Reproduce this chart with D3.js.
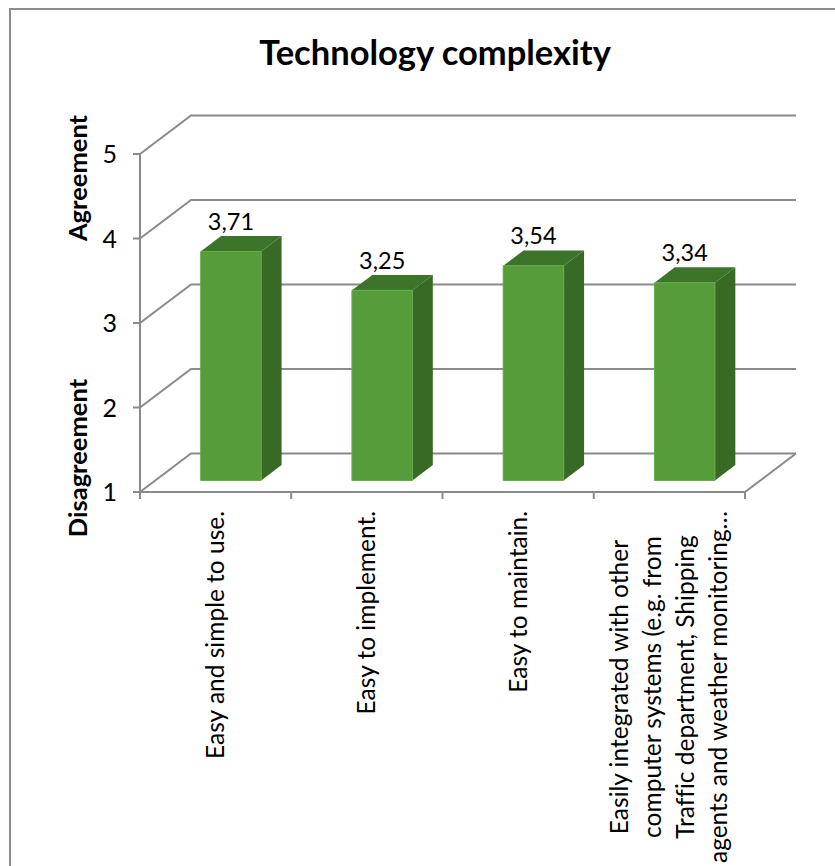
<!DOCTYPE html>
<html>
<head>
<meta charset="utf-8">
<script src="https://cdn.jsdelivr.net/npm/d3@7"></script>
<style>
  html, body { margin: 0; padding: 0; background: #ffffff; }
  svg { display: block; font-family: Lato, "Open Sans", sans-serif; font-variant-ligatures: none; }
</style>
</head>
<body>
<svg id="chart" width="835" height="866"></svg>
<script>
// Survey results: mean agreement on a 1–5 scale
const categories = [
  ["Easy and simple to use."],
  ["Easy to implement."],
  ["Easy to maintain."],
  ["Easily integrated with other", "computer systems (e.g. from", "Traffic department, Shipping", "agents and weather monitoring…"]
];
const values = [3.71, 3.25, 3.54, 3.34];
const valueLabels = ["3,71", "3,25", "3,54", "3,34"];
const yTicks = [1, 2, 3, 4, 5];
const chartTitle = "Technology complexity";
const axisTitleHigh = "Agreement";
const axisTitleLow = "Disagreement";

const svg = d3.select("#chart");

// Layout of the pseudo-3D plot box
const left = 140, right = 745, floorY = 492, topY = 154;
const depthX = 51, depthY = -38.5;           // offset from front plane to back wall
const barFront = 0.30, barBack = 0.70;       // bar depth as fraction of box depth
const gridColor = "#8a8a8a";

const x = d3.scaleBand()
  .domain(d3.range(categories.length))
  .range([left, right])
  .paddingInner(0.6)
  .paddingOuter(0.3);

const y = d3.scaleLinear().domain([1, 5]).range([floorY, topY]);

// project a front-plane point back by a depth fraction
const P = (px, py, d) => [px + depthX * d, py + depthY * d];

// Outer chart border
svg.append("rect")
  .attr("x", 10).attr("y", 9)
  .attr("width", 900).attr("height", 900)
  .attr("fill", "none")
  .attr("stroke", "#8c8c8c")
  .attr("stroke-width", 2);

// Title
svg.append("text")
  .attr("x", 435).attr("y", 65)
  .attr("text-anchor", "middle")
  .attr("font-weight", "bold")
  .attr("font-size", 34.5)
  .attr("fill", "#000")
  .text(chartTitle);

// Wall and floor gridlines
const grid = svg.append("g")
  .attr("fill", "none")
  .attr("stroke", gridColor)
  .attr("stroke-width", 2);

yTicks.forEach(t => {
  const f = [left, y(t)];
  const b = P(left, y(t), 1);
  const br = P(right, y(t), 1);
  grid.append("path").attr("d", d3.line()([f, b, br]));
});
// floor right edge
grid.append("path").attr("d", d3.line()([[right, floorY], P(right, floorY, 1)]));

// Front axes
const axes = svg.append("g").attr("stroke", gridColor).attr("stroke-width", 2).attr("fill", "none");
axes.append("line").attr("x1", left).attr("x2", left).attr("y1", y(5)).attr("y2", floorY);
axes.append("line").attr("x1", left).attr("x2", right).attr("y1", floorY).attr("y2", floorY);

// y ticks and labels
yTicks.forEach(t => {
  axes.append("line").attr("x1", left - 7).attr("x2", left).attr("y1", y(t)).attr("y2", y(t));
});
svg.append("g").selectAll("text")
  .data(yTicks).join("text")
  .attr("x", 117)
  .attr("y", d => y(d))
  .attr("dy", "0.36em")
  .attr("text-anchor", "end")
  .attr("font-size", 25)
  .attr("fill", "#000")
  .text(d => d);

// category boundary ticks
const step = x.step();
const bounds = d3.range(categories.length + 1).map(i => left + i * step);
bounds.forEach(bx => {
  axes.append("line").attr("x1", bx).attr("x2", bx).attr("y1", floorY).attr("y2", floorY + 7);
});

// Bars
const bars = svg.append("g");
values.forEach((v, i) => {
  const x0 = x(i), x1 = x(i) + x.bandwidth();
  const yb = y(1), yt = y(v);
  const fl = P(x0, yb, barFront), fr = P(x1, yb, barFront);
  const tl = P(x0, yt, barFront), tr = P(x1, yt, barFront);
  const btr = P(x1, yt, barBack), btl = P(x0, yt, barBack), bbr = P(x1, yb, barBack);
  const g = bars.append("g");
  // side face
  g.append("path").attr("d", d3.line()([fr, tr, btr, bbr]) + "Z").attr("fill", "#386a25");
  // top face
  g.append("path").attr("d", d3.line()([tl, tr, btr, btl]) + "Z").attr("fill", "#3c7529");
  // front face
  g.append("path").attr("d", d3.line()([fl, fr, tr, tl]) + "Z")
    .attr("fill", "#569c3b").attr("stroke", "#64ad48").attr("stroke-width", 1);
  // value label
  const cx = (fl[0] + fr[0]) / 2;
  svg.append("text")
    .attr("x", cx).attr("y", btl[1] - 6)
    .attr("text-anchor", "middle")
    .attr("font-size", 23.5)
    .attr("fill", "#000")
    .text(valueLabels[i]);
});

// Category labels, rotated, top-aligned just below the axis
const labelTop = 511, lineGap = 33;
categories.forEach((lines, i) => {
  const cx = x(i) + x.bandwidth() / 2;
  const g = svg.append("g").attr("transform", `translate(${cx},${labelTop}) rotate(-90)`);
  const texts = lines.map((s, j) => g.append("text")
    .attr("y", (j - (lines.length - 1) / 2) * lineGap)
    .attr("dy", "0.35em")
    .attr("font-size", 24.5)
    .attr("fill", "#000")
    .attr("text-anchor", "middle")
    .text(s));
  const maxLen = d3.max(texts, t => t.node().getComputedTextLength());
  texts.forEach(t => t.attr("x", -maxLen / 2));
});

// Axis titles, rotated
[[axisTitleHigh, 178], [axisTitleLow, 458]].forEach(([s, cy]) => {
  svg.append("text")
    .attr("transform", `translate(78,${cy}) rotate(-90)`)
    .attr("dy", "0.35em")
    .attr("text-anchor", "middle")
    .attr("font-weight", "bold")
    .attr("font-size", 25.5)
    .attr("fill", "#000")
    .text(s);
});
</script>
</body>
</html>
